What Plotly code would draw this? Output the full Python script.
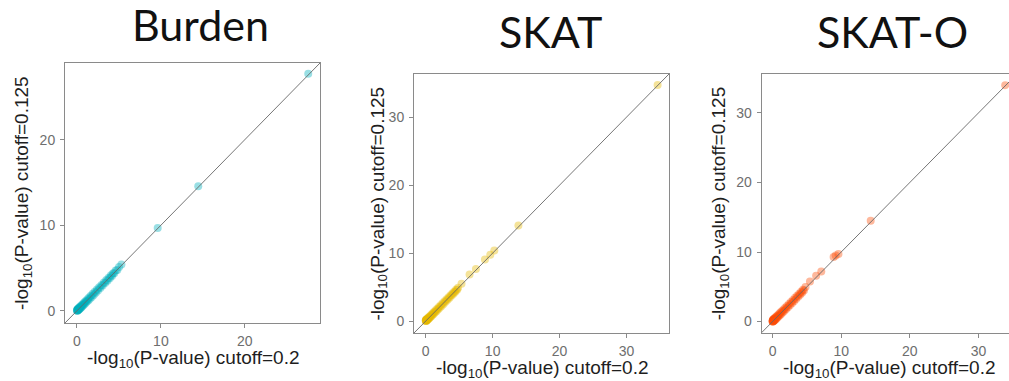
import plotly.graph_objects as go

# -log10(P) at cutoff 0.2 (x) versus cutoff 0.125 (y), one panel per test
burden_x = [0.00, 0.02, 0.04, 0.05, 0.07, 0.09, 0.11, 0.13, 0.16, 0.18, 0.21, 0.24, 0.27, 0.30,
            0.34, 0.38, 0.42, 0.46, 0.51, 0.56, 0.61, 0.67, 0.73, 0.79, 0.86, 0.93, 1.01, 1.09,
            1.17, 1.26, 1.35, 1.45, 1.55, 1.66, 1.77, 1.88, 2.00, 2.12, 2.25, 2.38, 2.51, 2.65,
            2.79, 2.93, 3.07, 3.21, 3.36, 3.50, 3.64, 3.78, 3.92, 4.05, 4.18, 4.31, 4.45, 4.62,
            4.81, 5.02, 5.30, 9.62, 14.45, 27.55]
burden_y = [0.03, 0.10, 0.00, 0.14, 0.02, 0.18, 0.06, 0.21, 0.09, 0.27, 0.15, 0.33, 0.20, 0.38,
            0.25, 0.47, 0.33, 0.55, 0.40, 0.64, 0.50, 0.74, 0.62, 0.88, 0.75, 1.02, 0.90, 1.19,
            1.05, 1.36, 1.22, 1.56, 1.42, 1.77, 1.63, 1.99, 1.86, 2.23, 2.11, 2.48, 2.38, 2.76,
            2.66, 3.03, 2.95, 3.31, 3.24, 3.61, 3.52, 3.88, 3.80, 4.15, 4.08, 4.40, 4.38, 4.72,
            4.76, 5.12, 5.40, 9.67, 14.54, 27.70]

skat_x = [0.00, 0.01, 0.03, 0.05, 0.06, 0.08, 0.10, 0.13, 0.15, 0.18, 0.21, 0.25, 0.28, 0.32,
          0.36, 0.41, 0.46, 0.51, 0.57, 0.63, 0.70, 0.77, 0.84, 0.92, 1.00, 1.09, 1.18, 1.28,
          1.38, 1.49, 1.60, 1.72, 1.84, 1.97, 2.10, 2.24, 2.38, 2.52, 2.67, 2.82, 2.97, 3.12,
          3.27, 3.42, 3.57, 3.72, 3.87, 4.01, 4.15, 4.29, 4.43, 4.56, 4.70, 4.84, 5.35,
          6.55, 7.50, 8.85, 9.65, 10.25, 13.85, 34.65]
skat_y = [0.04, 0.12, 0.00, 0.16, 0.03, 0.20, 0.07, 0.24, 0.11, 0.29, 0.16, 0.35, 0.22, 0.41,
          0.28, 0.50, 0.37, 0.60, 0.47, 0.71, 0.59, 0.85, 0.73, 1.00, 0.89, 1.18, 1.06, 1.37,
          1.25, 1.58, 1.46, 1.81, 1.70, 2.06, 1.96, 2.33, 2.24, 2.61, 2.53, 2.91, 2.83, 3.21,
          3.14, 3.51, 3.44, 3.80, 3.75, 4.09, 4.03, 4.37, 4.31, 4.64, 4.60, 4.90, 5.50,
          6.85, 7.65, 9.05, 9.75, 10.40, 14.05, 34.75]

skato_x = [0.00, 0.01, 0.02, 0.04, 0.05, 0.07, 0.09, 0.11, 0.13, 0.16, 0.19, 0.22, 0.25, 0.29,
           0.33, 0.37, 0.42, 0.47, 0.52, 0.58, 0.64, 0.71, 0.78, 0.85, 0.93, 1.01, 1.10, 1.19,
           1.29, 1.39, 1.50, 1.61, 1.73, 1.85, 1.98, 2.11, 2.25, 2.39, 2.53, 2.68, 2.83, 2.98,
           3.13, 3.28, 3.43, 3.58, 3.73, 3.88, 4.02, 4.16, 4.30, 4.44, 4.58, 4.80, 5.45,
           6.35, 7.10, 8.90, 9.20, 9.60, 14.30, 33.90]
skato_y = [0.02, 0.13, 0.00, 0.19, 0.05, 0.24, 0.02, 0.28, 0.08, 0.33, 0.13, 0.39, 0.18, 0.45,
           0.24, 0.52, 0.31, 0.61, 0.40, 0.72, 0.51, 0.84, 0.64, 0.99, 0.79, 1.15, 0.95, 1.33,
           1.13, 1.53, 1.33, 1.75, 1.55, 1.99, 1.79, 2.25, 2.05, 2.52, 2.33, 2.81, 2.63, 3.11,
           2.94, 3.41, 3.25, 3.71, 3.56, 4.00, 3.86, 4.29, 4.16, 4.58, 4.46, 4.98, 5.75,
           6.60, 7.20, 9.30, 9.50, 9.70, 14.50, 34.00]

panel_titles = ["Burden", "SKAT", "SKAT-O"]
panel_colors = ["#00AFBB", "#E7B800", "#FC4E07"]
tick_values = [0, 10, 20, 30]

W, H = 1009, 381

# panel boxes in pixels: left, right, top, bottom
boxes = [(65, 320, 63, 323), (414, 669, 74, 333), (761.7, 1009, 74, 332.7)]
x_ranges = [[-1.42, 28.95], [-1.75, 36.35], [-1.58, 34.45]]
y_ranges = [[-1.42, 28.95], [-1.75, 36.35], [-1.6, 35.6]]

# title centers (x px, y px); x-title center y; y-title center x
title_pos = [(200, 24), (550, 31), (892, 31)]
xtitle_y = [359, 369, 369]
ytitle_x = [23, 378, 720]

series = [(burden_x, burden_y), (skat_x, skat_y), (skato_x, skato_y)]

AXIS_GRAY = "#8a8a8a"
TICK_FONT = dict(family="Liberation Sans, Arial, sans-serif", size=14, color="#6e6e6e")
LABEL_FONT = dict(family="Liberation Sans, Arial, sans-serif", size=19, color="#1e1e1e")

fig = go.Figure()
layout = dict(
    width=W, height=H,
    margin=dict(l=0, r=0, t=0, b=0),
    paper_bgcolor="white", plot_bgcolor="white",
    showlegend=False,
    annotations=[],
)

for i, ((xs, ys), color) in enumerate(zip(series, panel_colors)):
    n = "" if i == 0 else str(i + 1)
    xa, ya = "x" + n, "y" + n
    left, right, top, bottom = boxes[i]

    fig.add_trace(go.Scatter(
        x=xs, y=ys, mode="markers", xaxis=xa, yaxis=ya,
        marker=dict(size=8, color=color, opacity=0.4, line=dict(width=0)),
        hoverinfo="skip",
    ))
    # identity reference line across the full panel
    lo = min(x_ranges[i][0], y_ranges[i][0]) - 1
    hi = max(x_ranges[i][1], y_ranges[i][1]) + 1
    fig.add_trace(go.Scatter(
        x=[lo, hi], y=[lo, hi], mode="lines", xaxis=xa, yaxis=ya,
        line=dict(color="#666666", width=0.9), hoverinfo="skip",
    ))

    visible_ticks = [t for t in tick_values if t <= x_ranges[i][1]]
    common = dict(
        showgrid=False, zeroline=False, showline=True, linecolor=AXIS_GRAY, linewidth=1,
        ticks="outside", ticklen=4, tickwidth=1, tickcolor=AXIS_GRAY,
        tickfont=TICK_FONT, tickvals=visible_ticks, fixedrange=True,
    )
    layout["xaxis" + n] = dict(
        common, domain=[left / W, min(right / W, 1.0)], range=x_ranges[i],
        anchor=ya, mirror=True, ticklabelstandoff=1,
    )
    layout["yaxis" + n] = dict(
        common, domain=[1 - bottom / H, 1 - top / H], range=y_ranges[i],
        anchor=xa, mirror=(i < 2), ticklabelstandoff=2,
    )

    tx, ty = title_pos[i]
    layout["annotations"].append(dict(
        text=panel_titles[i], xref="paper", yref="paper",
        x=tx / W, y=1 - ty / H, xanchor="center", yanchor="middle", showarrow=False,
        font=dict(family="Lato, Open Sans, sans-serif", size=43, color="#111111"),
    ))
    cx = (left + (right if i < 2 else 1017)) / 2
    layout["annotations"].append(dict(
        text="-log<sub>10</sub>(P-value) cutoff=0.2", xref="paper", yref="paper",
        x=cx / W, y=1 - xtitle_y[i] / H, xanchor="center", yanchor="middle",
        showarrow=False, font=LABEL_FONT,
    ))
    cy = (top + bottom) / 2
    layout["annotations"].append(dict(
        text="-log<sub>10</sub>(P-value) cutoff=0.125", xref="paper", yref="paper",
        x=ytitle_x[i] / W, y=1 - cy / H, xanchor="center", yanchor="middle",
        textangle=-90, showarrow=False, font=LABEL_FONT,
    ))

fig.update_layout(**layout)
fig.write_html("out.html")
